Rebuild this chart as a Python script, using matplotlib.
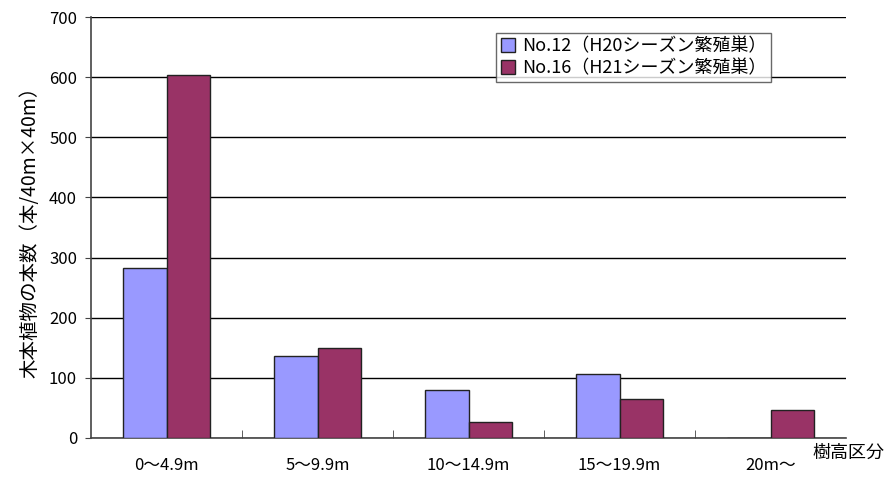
import matplotlib
matplotlib.use("Agg")
import matplotlib.pyplot as plt
import numpy as np
from matplotlib.ticker import FixedLocator, NullFormatter

plt.rcParams['font.family'] = ['Noto Sans CJK JP', 'DejaVu Sans']

categories = ["0～4.9m", "5～9.9m", "10～14.9m", "15～19.9m", "20m～"]
series_names = ["No.12（H20シーズン繁殖巣）", "No.16（H21シーズン繁殖巣）"]
no12 = [283, 136, 80, 106, 0]
no16 = [603, 150, 27, 65, 47]
yticks = [0, 100, 200, 300, 400, 500, 600, 700]

fig = plt.figure(figsize=(8.96, 4.8), dpi=100)
ax = fig.add_axes([91/896, 42/480, (846-91)/896, (438-17)/480])

x = np.arange(len(categories))
w = 0.29
ax.bar(x - w/2, no12, w, color="#9999FF", edgecolor="#222222", linewidth=1.0,
       label=series_names[0], zorder=3)
ax.bar(x + w/2, no16, w, color="#993366", edgecolor="#222222", linewidth=1.0,
       label=series_names[1], zorder=3)

ax.set_xlim(-0.5, len(categories) - 0.5)
ax.set_ylim(0, 700)
ax.set_yticks(yticks)
ax.set_yticklabels([str(v) for v in yticks], fontsize=12)
ax.yaxis.grid(True, color="black", linewidth=1.0, zorder=0)
ax.set_axisbelow(True)

ax.set_xticks(x)
ax.set_xticklabels(categories, fontsize=12)
ax.tick_params(axis='x', which='major', length=0, pad=14)
ax.xaxis.set_minor_locator(FixedLocator(np.arange(0.5, len(categories) - 0.5, 1.0)))
ax.xaxis.set_minor_formatter(NullFormatter())
ax.tick_params(axis='x', which='minor', direction='in', length=6, color="#444444")
ax.tick_params(axis='y', direction='out', length=4, color="#444444", pad=6)

for s in ['top', 'right']:
    ax.spines[s].set_visible(False)
for s in ['left', 'bottom']:
    ax.spines[s].set_color("#444444")
    ax.spines[s].set_linewidth(1.2)

ax.set_ylabel("木本植物の本数（本/40m×40m）", fontsize=14, labelpad=6)
fig.text(812/896, 1 - 453/480, "樹高区分", fontsize=13, ha='left', va='center')

leg = ax.legend(loc='upper left', bbox_to_anchor=((496-91)/755, (438-33)/421),
                fontsize=13, frameon=True, fancybox=False, edgecolor="#444444",
                handlelength=0.8, handleheight=0.8, handletextpad=0.4,
                borderpad=0.25, labelspacing=0.2, borderaxespad=0)
leg.get_frame().set_linewidth(1.0)

fig.savefig("out.png", dpi=100, facecolor="white")
